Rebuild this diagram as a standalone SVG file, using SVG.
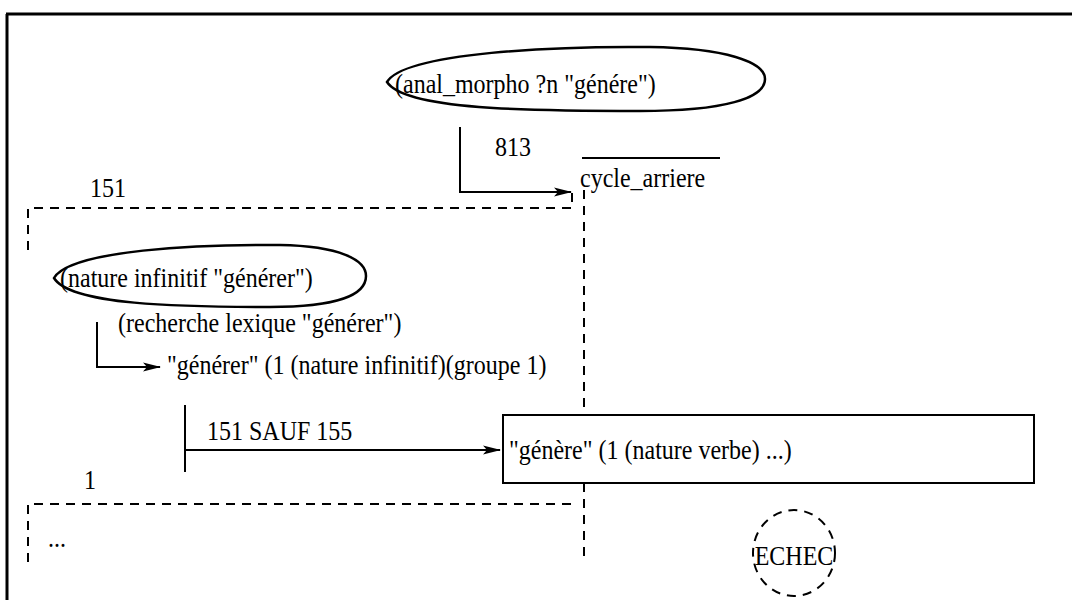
<svg xmlns="http://www.w3.org/2000/svg" width="1072" height="600" viewBox="0 0 1072 600">
<style>
text{font-family:"Liberation Serif","Times New Roman",serif;font-size:24px;fill:#000}
.ln{stroke:#000;stroke-width:2;fill:none}
.ds{stroke:#000;stroke-width:2;fill:none;stroke-dasharray:9 7}
.nd{stroke:#000;stroke-width:2.5;fill:none}
</style>
<defs>
<marker id="ah" markerWidth="18" markerHeight="10" refX="17" refY="5" orient="auto" markerUnits="userSpaceOnUse"><path d="M0,0.5 L18,5 L0,9.5 L4,5 Z" fill="#000"/></marker>
</defs>
<g id="frame"><path d="M6,14 H1072 M7,14 V600" stroke="#000" stroke-width="3" fill="none"/></g>
<g id="anal_morpho"><path class="nd" d="M387,82 C405,52 560,46 650,47 C725,48 765,62 765,79 C765,98 725,111 640,111 C530,111 405,110 387,82 Z"/><text transform="translate(395,93) scale(1,1.15)">(anal_morpho ?n "génére")</text></g>
<g id="cycle_arriere"><path class="ln" d="M582,158 H720" stroke-width="1.5"/><text transform="translate(580,187) scale(1,1.15)">cycle_arriere</text></g>
<g id="regle151"><path class="ds" d="M28,250 V208 H572 V188"/><text transform="translate(90,197) scale(1,1.15)">151</text></g>
<g id="nature_infinitif"><path class="nd" d="M54,278 C70,250 200,244 280,245 C340,246 366,260 366,276 C366,294 340,307 270,307 C180,307 70,305 54,278 Z"/><text transform="translate(60,287) scale(1,1.15)">(nature infinitif "générer")</text></g>
<g id="recherche"><text transform="translate(118,332) scale(1,1.15)">(recherche lexique "générer")</text></g>
<g id="generer"><text transform="translate(167,374) scale(1,1.15)">"générer" (1 (nature infinitif)(groupe 1)</text></g>
<g id="genere"><rect class="ln" x="503" y="415" width="531" height="68"/><text transform="translate(509,459) scale(1,1.15)">"génère" (1 (nature verbe) ...)</text></g>
<g id="regle1"><path class="ds" d="M28,562 V504 H572"/><text transform="translate(84,489) scale(1,1.15)">1</text><text transform="translate(48,547) scale(1,1.15)">...</text></g>
<g id="echec"><ellipse class="ds" cx="794" cy="553" rx="41" ry="43"/><text transform="translate(794,565) scale(1,1.15)" text-anchor="middle">ECHEC</text></g>
<g id="connectors">
<path class="ln" d="M460,127 V192 H571" marker-end="url(#ah)"/>
<text transform="translate(495,156) scale(1,1.15)">813</text>
<path class="ds" d="M584,190 V415 M584,483 V563"/>
<path class="ln" d="M97,322 V367 H160" marker-end="url(#ah)"/>
<path class="ln" d="M185,405 V472 M185,450 H500" marker-end="url(#ah)"/>
<text transform="translate(207,440) scale(1,1.15)">151 SAUF 155</text>
</g>
</svg>
